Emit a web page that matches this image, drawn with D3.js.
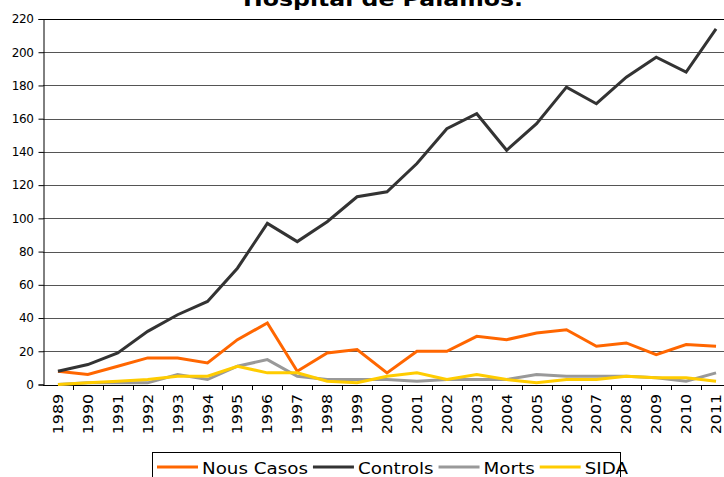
<!DOCTYPE html>
<html>
<head>
<meta charset="utf-8">
<script src="https://cdn.jsdelivr.net/npm/d3@7"></script>
<style>
  html, body { margin: 0; padding: 0; background: #fff; }
  svg { display: block; }
</style>
</head>
<body>
<svg id="chart" width="724" height="477"></svg>
<script>
const years = ["1989","1990","1991","1992","1993","1994","1995","1996","1997","1998","1999","2000",
               "2001","2002","2003","2004","2005","2006","2007","2008","2009","2010","2011"];
const nousCasos = [8,6,11,16,16,13,27,37,8,19,21,7,20,20,29,27,31,33,23,25,18,24,23];
const controls  = [8,12,19,32,42,50,70,97,86,98,113,116,133,154,163,141,157,179,169,185,197,188,214];
const morts     = [0,1,1,1,6,3,11,15,5,3,3,3,2,3,3,3,6,5,5,5,4,2,7];
const sida      = [0,1,2,3,5,5,11,7,7,2,1,5,7,3,6,3,1,3,3,5,4,4,2];
const yTicks    = [0,20,40,60,80,100,120,140,160,180,200,220];
const titleText = "Hospital de Palamós.";

const seriesNames  = ["Nous Casos","Controls","Morts","SIDA"];
const seriesValues = [nousCasos, controls, morts, sida];
const seriesColors = ["#FF6600","#333333","#999999","#FFCC00"];

const svg = d3.select("#chart");
const font = "'DejaVu Sans', Verdana, sans-serif";

const pLeft = 43, pRight = 731, pTop = 19, pBottom = 384.5;
const x = d3.scaleBand().domain(years).range([pLeft, pRight]);
const y = d3.scaleLinear().domain([0, 220]).range([pBottom, pTop]);

// title (cropped at top)
svg.append("text")
  .attr("transform", "translate(383,6) scale(1.18,1)")
  .attr("text-anchor", "middle")
  .attr("font-family", font)
  .attr("font-weight", "bold")
  .attr("font-size", 20)
  .attr("fill", "#000")
  .text(titleText);

// gridlines
svg.append("g")
  .selectAll("line")
  .data(yTicks.filter(d => d > 0))
  .join("line")
  .attr("x1", pLeft).attr("x2", 724)
  .attr("y1", d => Math.round(y(d)) + 0.5).attr("y2", d => Math.round(y(d)) + 0.5)
  .attr("stroke", d => d === 220 ? "#000" : "#555")
  .attr("stroke-width", 1);

// y axis
const yAxis = svg.append("g")
  .attr("transform", `translate(${pLeft + 0.5},0)`)
  .call(d3.axisLeft(y).tickValues(yTicks).tickSize(5).tickPadding(5));
yAxis.select(".domain").attr("stroke", "#000");
yAxis.selectAll(".tick line").attr("stroke", "#000");
yAxis.selectAll(".tick text")
  .attr("font-family", font)
  .attr("font-size", 12)
  .attr("letter-spacing", "-0.4px")
  .attr("fill", "#000");

// x axis
const xAxis = svg.append("g")
  .attr("transform", `translate(0,${Math.round(pBottom) + 0.5})`)
  .call(d3.axisBottom(x).tickSize(0).tickFormat(""));
xAxis.select(".domain").attr("stroke", "#000").attr("d", `M${pLeft},0H724`);
xAxis.selectAll(".tick").remove();
// tick marks at category boundaries
svg.append("g")
  .selectAll("line")
  .data(years.slice(1))
  .join("line")
  .attr("x1", d => Math.round(x(d)) + 0.5).attr("x2", d => Math.round(x(d)) + 0.5)
  .attr("y1", Math.round(pBottom)).attr("y2", Math.round(pBottom) + 5)
  .attr("stroke", "#000");

// x labels (rotated)
svg.append("g")
  .selectAll("text")
  .data(years)
  .join("text")
  .attr("transform", d => `translate(${x(d) + x.bandwidth() / 2},394) rotate(-90) scale(1.13,1)`)
  .attr("text-anchor", "end")
  .attr("dy", "0.36em")
  .attr("font-family", font)
  .attr("font-size", 14)
  .attr("fill", "#000")
  .text(d => d);

// lines
const line = d3.line()
  .x((d, i) => x(years[i]) + x.bandwidth() / 2)
  .y(d => y(d));

const plot = svg.append("g");
seriesValues.forEach((vals, k) => {
  plot.append("path")
    .datum(vals)
    .attr("fill", "none")
    .attr("stroke", seriesColors[k])
    .attr("stroke-width", 3)
    .attr("stroke-linejoin", "miter")
    .attr("d", line);
});

// legend
const lg = svg.append("g");
lg.append("rect")
  .attr("x", 152.5).attr("y", 452.5)
  .attr("width", 468).attr("height", 40)
  .attr("fill", "#fff").attr("stroke", "#000").attr("stroke-width", 1);

let cx = 157;
const ly = 467;
const stretch = 1.18;
seriesNames.forEach((name, k) => {
  lg.append("line")
    .attr("x1", cx).attr("x2", cx + 41)
    .attr("y1", ly).attr("y2", ly)
    .attr("stroke", seriesColors[k]).attr("stroke-width", 3);
  cx += 45;
  const t = lg.append("text")
    .attr("transform", `translate(${cx},474) scale(${stretch},1)`)
    .attr("font-family", font)
    .attr("font-size", 15.5)
    .attr("fill", "#000")
    .text(name);
  const w = t.node().getComputedTextLength() * stretch;
  cx += w + 5;
});
</script>
</body>
</html>
